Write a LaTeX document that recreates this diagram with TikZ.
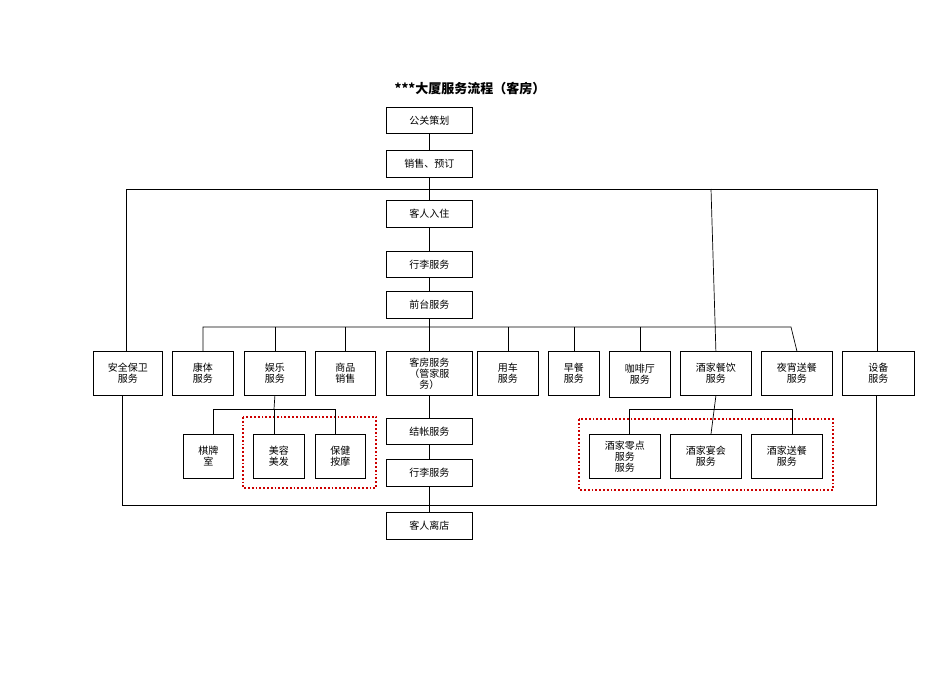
\documentclass[tikz,border=0pt]{standalone}
\usepackage{fontspec}
\setmainfont{Noto Sans CJK SC}
\begin{document}
\begin{tikzpicture}[x=1pt,y=-1pt,
  bx/.style={draw,line width=0.8pt,inner sep=0pt,align=center,font=\fontsize{10}{11}\selectfont},
  ln/.style={line width=0.7pt},
  grp/.style={draw=red!80!black,line width=1.8pt,dotted}]
\useasboundingbox (0,0) rectangle (950,672);
\newcommand{\bb}[6]{\node[bx,minimum width={#4-#2},minimum height={#5-#3},anchor=north west] (#1) at (#2,#3) {#6};}
\node[font=\bfseries\fontsize{13}{14}\selectfont] (title) at (470,89) {***大厦服务流程（客房）};
\bb{gg}{386}{107}{472}{133}{公关策划}
\bb{xs}{386}{150}{472}{177}{销售、预订}
\bb{rz}{386}{200}{472}{227}{客人入住}
\bb{xl}{386}{251}{472}{277}{行李服务}
\bb{qt}{386}{291}{472}{318}{前台服务}
\bb{aq}{93}{351}{162}{395}{安全保卫\\服务}
\bb{kt}{172}{351}{233}{395}{康体\\服务}
\bb{yl}{244}{351}{305}{395}{娱乐\\服务}
\bb{sp}{315}{351}{375}{395}{商品\\销售}
\bb{kf}{386}{351}{472}{395}{客房服务\\（管家服\\务）}
\bb{yc}{477}{351}{538}{395}{用车\\服务}
\bb{zc}{548}{351}{599}{395}{早餐\\服务}
\bb{kft}{609}{351}{670}{397}{咖啡厅\\服务}
\bb{jj}{680}{351}{751}{395}{酒家餐饮\\服务}
\bb{yx}{761}{351}{832}{395}{夜宵送餐\\服务}
\bb{sb}{842}{351}{914}{395}{设备\\服务}
\bb{qp}{183}{434}{233}{478}{棋牌\\室}
\bb{mr}{253}{434}{304}{478}{美容\\美发}
\bb{bj}{315}{434}{365}{478}{保健\\按摩}
\bb{jz}{386}{418}{472}{444}{结帐服务}
\bb{xl2}{386}{459}{472}{486}{行李服务}
\bb{ld}{386}{512}{472}{539}{客人离店}
\bb{ld1}{589}{434}{660}{478}{酒家零点\\服务\\服务}
\bb{ld2}{670}{434}{741}{478}{酒家宴会\\服务}
\bb{ld3}{751}{434}{822}{478}{酒家送餐\\服务}
\draw[grp] (243,417) rectangle (376,488);
\draw[grp] (579,419) rectangle (833,490);
% main spine
\draw[ln] (gg) -- (xs); \draw[ln] (xs) -- (rz); \draw[ln] (rz) -- (xl);
\draw[ln] (xl) -- (qt); \draw[ln] (qt) -- (kf);
\draw[ln] (kf) -- (jz); \draw[ln] (jz) -- (xl2); \draw[ln] (xl2) -- (ld);
% top bus
\draw[ln] (aq.north -| 126,0) |- (877,189) -- (sb.north -| 877,0);
\draw[ln] (711,189) -- (jj.north);
% front desk bus
\draw[ln] (kt.north) |- (791,327) -- (yx.north);
\foreach \n in {yl,sp,yc,zc,kft} \draw[ln] (\n.north) -- (\n.north |- 0,327);
% bottom bus
\draw[ln] (aq.south -| 122,0) |- (876,505) -- (sb.south -| 876,0);
% sub buses
\draw[ln] (yl.south) -- (274,409);
\draw[ln] (qp.north -| 213,0) |- (335,409) -- (bj.north -| 335,0);
\draw[ln] (274,409) -- (mr.north -| 274,0);
\draw[ln] (jj.south) -- (ld2.north -| 711,0);
\draw[ln] (ld1.north -| 629,0) |- (792,409) -- (ld3.north -| 792,0);
\end{tikzpicture}
\end{document}
